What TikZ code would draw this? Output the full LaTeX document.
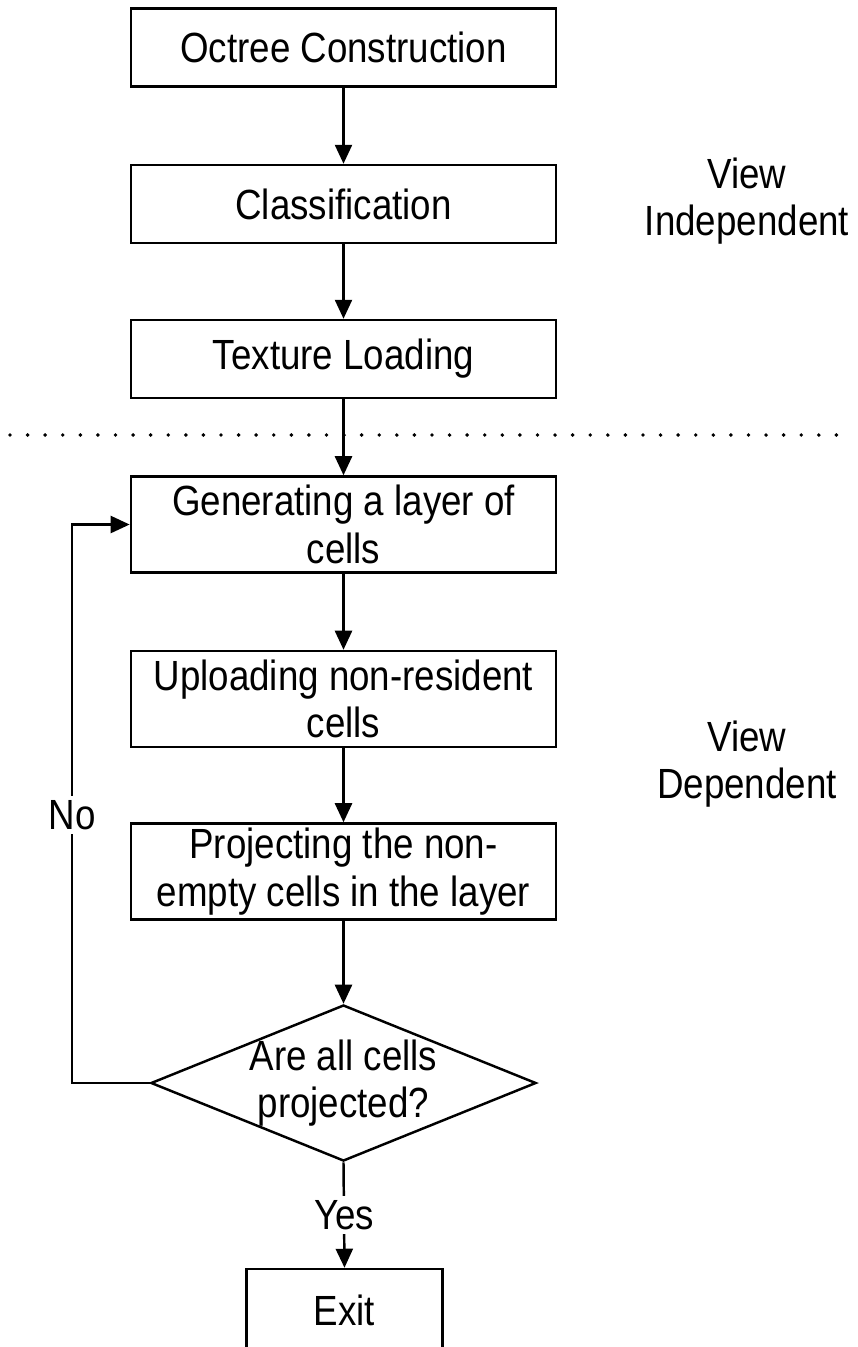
\documentclass[tikz,border=0pt]{standalone}
\usepackage{fontspec}
\setmainfont{Liberation Sans}[FakeStretch=0.87]
\usetikzlibrary{shapes.geometric, arrows.meta, positioning}

\begin{document}
\begin{tikzpicture}[x=0.01cm, y=-0.01cm, line width=0.7pt,
  font=\fontsize{12}{13.5}\selectfont,
  stepbox/.style={draw, minimum width=4.25cm, minimum height=0.78cm, inner sep=1pt, align=center},
  tallbox/.style={stepbox, minimum height=0.96cm},
  decision/.style={draw, diamond, aspect=2.47, minimum width=3.85cm, minimum height=1.56cm, inner xsep=0pt, inner ysep=-1.2mm, align=center},
  flow/.style={-{Triangle[length=1.9mm, width=1.7mm]}},
  gaplabel/.style={fill=white, inner sep=1.3pt}]
 \useasboundingbox (0,0) rectangle (858,1347);
 % view independent steps
 \node[stepbox] (octree) at (343.5,47.5) {Octree Construction};
 \node[stepbox] (classif) at (343.5,204) {Classification};
 \node[stepbox] (texload) at (343.5,359) {Texture Loading};
 % view dependent loop
 \node[tallbox] (genlayer) at (343.5,524.5) {Generating a layer of\\cells};
 \node[tallbox] (upload) at (343.5,699) {Uploading non-resident\\cells};
 \node[tallbox] (project) at (343.5,871.5) {Projecting the non-\\empty cells in the layer};
 \node[decision] (alldone) at (343.5,1083) {Are all cells\\projected?};
 \node[draw, minimum width=1.96cm, minimum height=0.82cm] (exit) at (344.5,1310) {Exit};
 \node[align=center] (indep) at (747,201) {View\\Independent};
 \node[align=center] (dep) at (747,764) {View\\Dependent};
 % separator
 \coordinate (sepL) at (10,435);
 \coordinate (sepR) at (848,435);
 \draw[line width=1.1pt, line cap=round, dash pattern=on 0pt off 5pt] (sepL) -- (sepR);
 \draw[flow] (octree.south) -- (classif.north);
 \draw[flow] (classif.south) -- (texload.north);
 \draw[flow] (texload.south) -- (genlayer.north);
 \draw[flow] (genlayer.south) -- (upload.north);
 \draw[flow] (upload.south) -- (project.north);
 \draw[flow] (project.south) -- (alldone.north);
 \draw[flow] (alldone.south) -- node[gaplabel] {Yes} (exit.north);
 \coordinate (back) at (72,524.5);
 \draw[flow] (alldone.west) -| node[gaplabel, pos=0.74] {No} (back) -- (genlayer.west);
\end{tikzpicture}
\end{document}
